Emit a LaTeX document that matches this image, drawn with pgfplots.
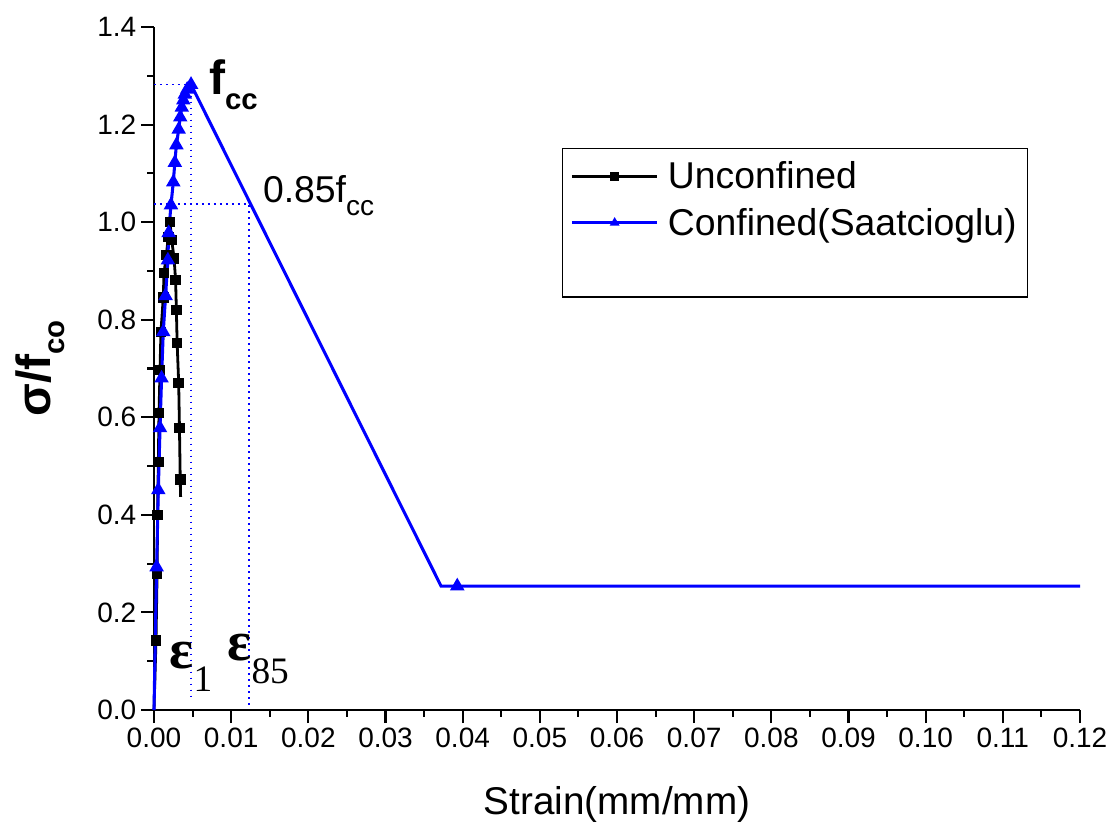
\documentclass[border=0pt]{standalone}
\usepackage{pgfplots}
\pgfplotsset{compat=1.18}
\usepackage{fontspec}
\setmainfont{Liberation Sans}
\newfontfamily\serifeps{Liberation Serif}
\newcommand{\fs}[1]{\fontsize{#1}{#1}\selectfont}
\begin{document}
\begin{tikzpicture}
\path[use as bounding box] (-115.5pt,-86.25pt) rectangle (724.5pt,532.5pt);
\begin{axis}[
  scale only axis,
  width=694.5pt, height=512.25pt,
  at={(0pt,0pt)}, anchor=south west,
  xmin=0, xmax=0.12, ymin=0, ymax=1.4,
  axis x line*=bottom, axis y line*=left,
  axis line style={line width=1.9pt, -},
  xtick distance=0.01, ytick distance=0.2,
  minor x tick num=1, minor y tick num=1,
  tick align=outside,
  major tick length=9.75pt, minor tick length=5pt,
  every tick/.style={line width=1.6pt, black},
  scaled x ticks=false, scaled y ticks=false,
  /pgf/number format/assume math mode=true,
  xticklabel style={/pgf/number format/.cd, fixed, fixed zerofill, precision=2},
  yticklabel style={/pgf/number format/.cd, fixed, fixed zerofill, precision=1},
  tick label style={font=\fs{21pt}},
  xlabel={Strain(mm/mm)},
  xlabel style={font=\fs{29pt}, at={(axis description cs:0.5,-0.139)}, anchor=center},
  ylabel={\bfseries σ/f\raisebox{-0.3em}{\fs{22pt}\bfseries co}},
  ylabel style={font=\fs{36pt}, at={(axis description cs:-0.123,0.5)}, anchor=center},
  legend style={at={(0.4406,0.823)}, anchor=north west, draw=black, line width=1pt,
    font=\fs{28pt}, inner xsep=6pt, inner ysep=8pt, row sep=9pt,
    cells={anchor=west}},
  legend image code/.code={\draw[mark indices={2}, mark size=2.3pt] plot coordinates {(0pt,0pt) (32pt,0pt) (64pt,0pt)};},
  legend image post style={line width=2pt},
  clip=false,
]
% dotted guide lines
\addplot[blue, line width=1.3pt, dash pattern=on 1.2pt off 3.3pt, forget plot] coordinates {(0,1.282) (0.0048,1.282) (0.0048,0.02)};
\addplot[blue, line width=1.3pt, dash pattern=on 1.2pt off 3.3pt, forget plot] coordinates {(0,1.037) (0.0123,1.037) (0.0123,0.005)};

\addplot[black, line width=2.1pt, mark=square*, mark size=2.9pt,
  mark indices={2,3,4,5,6,7,8,9,10,11,12,13,14,15,16,17,18,19,20,21}] coordinates {
(0,0) (0.00026,0.143) (0.0004,0.279) (0.00047,0.40) (0.00056,0.508) (0.00065,0.609)
(0.00078,0.697) (0.0009,0.775) (0.0012,0.845) (0.0013,0.896) (0.0016,0.933)
(0.00186,0.97) (0.00207,1.0) (0.0023,0.963) (0.0026,0.926) (0.0028,0.881)
(0.0029,0.82) (0.0030,0.752) (0.0032,0.67) (0.0033,0.578) (0.0034,0.473) (0.00345,0.437)
};
\addlegendentry{\hspace{5pt}Unconfined}

\addplot[blue, line width=2.3pt, mark=triangle*, mark size=4pt,
  mark indices={2,3,4,5,6,7,8,9,10,11,12,13,14,15,16,17,18,19,20,22}] coordinates {
(0,0) (0.00034,0.293) (0.00056,0.451) (0.00078,0.578) (0.00098,0.68) (0.0012,0.775)
(0.0015,0.849) (0.0018,0.922) (0.0019,0.978) (0.0022,1.035) (0.0025,1.082)
(0.0027,1.122) (0.0029,1.158) (0.0032,1.19) (0.0034,1.215) (0.0036,1.235)
(0.0038,1.25) (0.0040,1.262) (0.0043,1.272) (0.0048,1.282)
(0.0372,0.254) (0.0393,0.254) (0.12,0.254)
};
\addlegendentry{\hspace{5pt}Confined(Saatcioglu)}
\addlegendimage{empty legend}
\addlegendentry{\phantom{Unconfined}}

% annotations
\node[anchor=base west, inner sep=0pt, font=\fs{36pt}\bfseries] at (axis cs:0.0071,1.261)
  {f\raisebox{-0.3em}{\fs{22pt}\bfseries cc}};
\node[anchor=base west, inner sep=0pt, font=\fs{28pt}] at (axis cs:0.0141,1.041)
  {0.85f\raisebox{-0.35em}{\fs{21pt}cc}};
\node[anchor=base west, inner sep=0pt, font=\serifeps\fs{42pt}\bfseries] at (axis cs:0.0020,0.086)
  {ε\raisebox{-0.42em}{\mdseries\fs{28pt}1}};
\node[anchor=base west, inner sep=0pt, font=\serifeps\fs{42pt}\bfseries] at (axis cs:0.0095,0.102)
  {ε\raisebox{-0.42em}{\mdseries\fs{28pt}85}};
\end{axis}
\end{tikzpicture}
\end{document}
